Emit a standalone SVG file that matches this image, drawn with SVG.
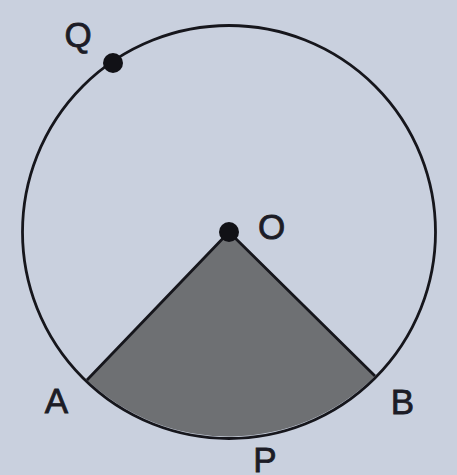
<svg xmlns="http://www.w3.org/2000/svg" width="457" height="475" viewBox="0 0 457 475">
<style>
.lbl{font-family:"Liberation Sans",Arial,sans-serif;font-size:35px;fill:#1c1c26;font-weight:normal;stroke:#1c1c26;stroke-width:0.8px}
.edge{stroke:#16161c;stroke-width:2.8;fill:none;stroke-linejoin:round}
.dot{fill:#111116}
</style>
<rect width="457" height="475" fill="#c9d0de"/>
<g id="connectors">
<path id="sector" d="M229,232 L87,380 A206.5,206.5 0 0 0 375,376 Z" fill="#6e7073" stroke="none"/>
<path id="radii" d="M87,380 L229,232 L375,376" class="edge" stroke-width="3"/>
<circle id="circle" cx="229" cy="232" r="206.5" class="edge"/>
</g>
<g id="Q"><circle class="dot" cx="113" cy="63" r="10"/><text class="lbl" x="78" y="47" text-anchor="middle">Q</text></g>
<g id="O"><circle class="dot" cx="229" cy="232" r="10"/><text class="lbl" x="271.5" y="239" text-anchor="middle">O</text></g>
<g id="A"><text class="lbl" x="56.5" y="413" text-anchor="middle">A</text></g>
<g id="B"><text class="lbl" x="402.5" y="414" text-anchor="middle">B</text></g>
<g id="P"><text class="lbl" x="265" y="472" text-anchor="middle">P</text></g>
</svg>
